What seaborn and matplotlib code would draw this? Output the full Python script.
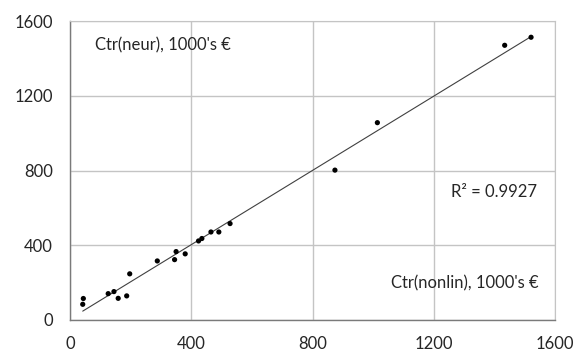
import numpy as np
import pandas as pd
import matplotlib
matplotlib.use("Agg")
import matplotlib.pyplot as plt
import seaborn as sns

# values (1000's of euro)
ctr_nonlin = [42, 44, 126, 145, 159, 187, 197, 288, 345, 350, 380, 424, 435,
              465, 491, 528, 874, 1014, 1434, 1521]
ctr_neur = [84, 115, 141, 152, 116, 129, 247, 316, 323, 366, 354, 423, 436,
            471, 471, 516, 802, 1056, 1470, 1513]
ticks = [0, 400, 800, 1200, 1600]

df = pd.DataFrame({"nonlin": ctr_nonlin, "neur": ctr_neur})

sns.set_style("white")
plt.rcParams['font.family'] = ['Lato', 'DejaVu Sans']

fig = plt.figure(figsize=(5.76, 3.52), dpi=100)
ax = fig.add_axes([70/576, 32/352, 485/576, 299/352])

#trend line first, points on top
sns.regplot(data=df, x="nonlin", y="neur", scatter=False, ci=None, ax=ax,
            line_kws={"color": "#404040", "lw": 0.8})
sns.scatterplot(data=df, x="nonlin", y="neur", ax=ax, color="black",
                s=14, edgecolor="none", zorder=3)

ax.set_xlim(0, 1600)
ax.set_ylim(0, 1600)
ax.set_xticks(ticks)
ax.set_yticks(ticks)
ax.grid(True, color="#c4c4c4", lw=1)
ax.set_axisbelow(True)
for side in ["top", "right"]:
    ax.spines[side].set_color("#c4c4c4")
for side in ["left", "bottom"]:
    ax.spines[side].set_color("#7a7a7a")
    ax.spines[side].set_linewidth(1)
ax.tick_params(axis="both", direction="out", length=4.5, width=1,
               color="#7a7a7a", labelsize=12)
ax.tick_params(axis="y", pad=8)
ax.tick_params(axis="x", pad=7)
ax.set_xlabel("")
ax.set_ylabel("")

ax.text(82, 1471, "Ctr(neur), 1000's €", fontsize=12, va="center", ha="left")
ax.text(1545, 195, "Ctr(nonlin), 1000's €", fontsize=12, va="center", ha="right")
ax.text(1540, 683, "R² = 0.9927", fontsize=12, va="center", ha="right")

fig.savefig("out.png", dpi=100)
